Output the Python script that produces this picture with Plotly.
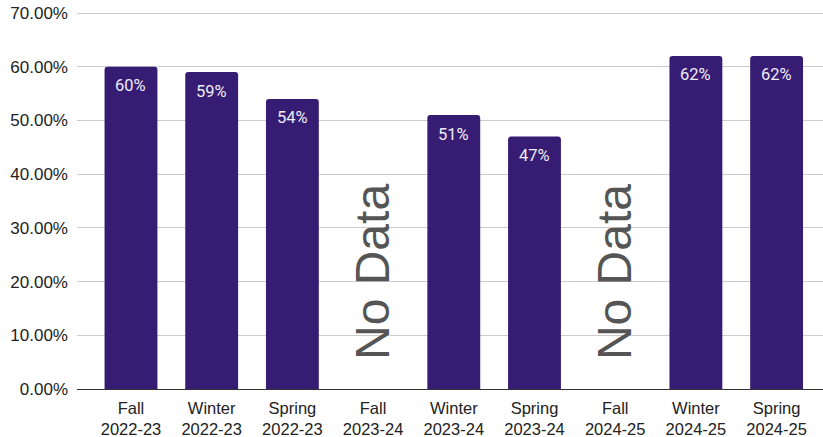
import plotly.graph_objects as go

categories = ["Fall<br>2022-23", "Winter<br>2022-23", "Spring<br>2022-23",
              "Fall<br>2023-24", "Winter<br>2023-24", "Spring<br>2023-24",
              "Fall<br>2024-25", "Winter<br>2024-25", "Spring<br>2024-25"]
values = [0.60, 0.59, 0.54, None, 0.51, 0.47, None, 0.62, 0.62]
labels = ["60%", "59%", "54%", "", "51%", "47%", "", "62%", "62%"]
no_data_idx = [3, 6]
no_data_text = "No Data"
y_ticks = [0, 0.1, 0.2, 0.3, 0.4, 0.5, 0.6, 0.7]

xs = list(range(len(categories)))

fig = go.Figure()
fig.add_trace(go.Bar(
    x=xs, y=values,
    marker=dict(color="#371c73", cornerradius=3, line=dict(width=0)),
    width=0.655, hoverinfo="skip",
))

for x, v, lab in zip(xs, values, labels):
    if v is None:
        continue
    fig.add_annotation(x=x, y=v, text=lab, showarrow=False, yshift=-19,
                       font=dict(color="#eeecf4", size=16.5, family="Roboto, Arial, sans-serif"))

for i in no_data_idx:
    fig.add_annotation(x=i, y=0.218, text=no_data_text, textangle=-90,
                       showarrow=False, xref="x", yref="y",
                       font=dict(size=48, color="#555555", family="Liberation Sans, Arial, sans-serif"))

fig.update_layout(
    width=823, height=437,
    margin=dict(l=77, r=0, t=10, b=48),
    plot_bgcolor="white", paper_bgcolor="white",
    showlegend=False,
    font=dict(family="Liberation Sans, Arial, sans-serif", color="#222222"),
)
fig.update_xaxes(
    tickmode="array", tickvals=xs, ticktext=categories,
    range=[-0.669, 8.575], showline=True, linecolor="#333333", linewidth=1,
    ticks="", tickfont=dict(size=16.5, color="#222222"), showgrid=False,
    ticklabelstandoff=4, automargin=False,
)
fig.update_yaxes(
    range=[0, 0.7056], tickvals=y_ticks, tickformat=".2%",
    gridcolor="#cccccc", gridwidth=1, zeroline=False,
    tickfont=dict(size=17, color="#222222"), ticks="", ticklabelstandoff=8,
    automargin=False,
)

fig.write_html("out.html", config={"displayModeBar": False},
               post_script="document.body.style.margin='0';")
